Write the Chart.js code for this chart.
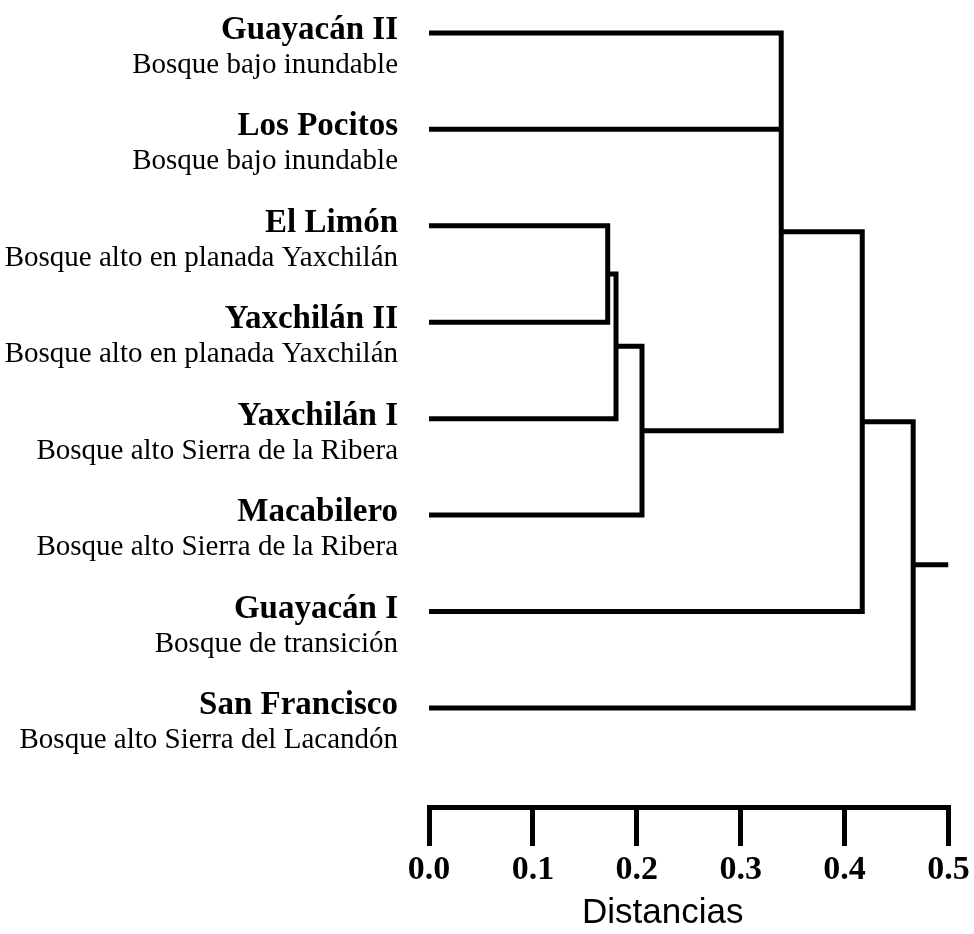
<!DOCTYPE html>
<html>
<head>
<meta charset="utf-8">
<title>Dendrograma de sitios</title>
<script src="https://cdn.jsdelivr.net/npm/chart.js@4.4.1/dist/chart.umd.min.js"></script>
<style>
  html, body { margin: 0; padding: 0; background: #fff; }
  #wrap { width: 974px; height: 934px; position: relative; }
</style>
</head>
<body>
<div id="wrap"><canvas id="dendro"></canvas></div>
<script>
// Leaves, top to bottom
const sites = ['Guayacán II', 'Los Pocitos', 'El Limón', 'Yaxchilán II',
               'Yaxchilán I', 'Macabilero', 'Guayacán I', 'San Francisco'];
const habitats = ['Bosque bajo inundable', 'Bosque bajo inundable',
                  'Bosque alto en planada Yaxchilán', 'Bosque alto en planada Yaxchilán',
                  'Bosque alto Sierra de la Ribera', 'Bosque alto Sierra de la Ribera',
                  'Bosque de transición', 'Bosque alto Sierra del Lacandón'];

// Merge steps; new nodes are numbered after the leaves (8, 9, ...)
const mergeMembers = [[2, 3], [8, 4], [9, 5], [0, 1, 10], [11, 6], [12, 7]];
const mergeDistances = [0.172, 0.180, 0.205, 0.339, 0.417, 0.466];
const rootEnd = 0.5;

const xTicks = [0.0, 0.1, 0.2, 0.3, 0.4, 0.5];
const xTitle = 'Distancias';

// Position (row) and height of every node
const nodeRow = sites.map((_, i) => i);
const nodeHeight = sites.map(() => 0);
const segments = [];
mergeMembers.forEach((members, k) => {
  const d = mergeDistances[k];
  const sorted = members.slice().sort((a, b) => nodeRow[a] - nodeRow[b]);
  const first = sorted[0], last = sorted[sorted.length - 1];
  segments.push([
    { x: nodeHeight[first], y: nodeRow[first] },
    { x: d, y: nodeRow[first] },
    { x: d, y: nodeRow[last] },
    { x: nodeHeight[last], y: nodeRow[last] }
  ]);
  sorted.slice(1, -1).forEach(m => {
    segments.push([{ x: nodeHeight[m], y: nodeRow[m] }, { x: d, y: nodeRow[m] }]);
  });
  nodeRow.push((nodeRow[first] + nodeRow[last]) / 2);
  nodeHeight.push(d);
});
const root = nodeRow.length - 1;
segments.push([{ x: nodeHeight[root], y: nodeRow[root] }, { x: rootEnd, y: nodeRow[root] }]);

const datasets = segments.map(pts => ({
  data: pts,
  borderColor: '#000',
  borderWidth: 5,
  borderJoinStyle: 'miter',
  borderCapStyle: 'butt',
  pointRadius: 0,
  fill: false,
  tension: 0
}));

// Site names and habitat types beside each leaf, plus the axis caption
const textLayer = {
  id: 'textLayer',
  afterDraw(chart) {
    const { ctx, scales, chartArea } = chart;
    const xRight = chartArea.left - 31;
    ctx.save();
    ctx.fillStyle = '#000';
    ctx.textAlign = 'right';
    ctx.textBaseline = 'alphabetic';
    sites.forEach((name, i) => {
      const y = scales.y.getPixelForValue(i);
      ctx.font = 'bold 33px "Liberation Serif"';
      ctx.fillText(name, xRight, y + 6);
      ctx.font = '29px "Liberation Serif"';
      ctx.fillText(habitats[i], xRight, y + 40);
    });
    ctx.textAlign = 'center';
    ctx.textBaseline = 'middle';
    ctx.font = '35px "Liberation Sans"';
    ctx.fillText(xTitle, (chartArea.left + chartArea.right) / 2 - 26, scales.x.bottom - 21);
    ctx.restore();
  }
};

new Chart(document.getElementById('dendro'), {
  type: 'line',
  data: { datasets },
  plugins: [textLayer],
  options: {
    responsive: true,
    maintainAspectRatio: false,
    animation: false,
    events: [],
    layout: { padding: { left: 429, right: 25.5, top: 4, bottom: 0 } },
    plugins: { legend: { display: false }, tooltip: { enabled: false } },
    scales: {
      x: {
        type: 'linear',
        min: 0,
        max: 0.5,
        afterBuildTicks(scale) { scale.ticks = xTicks.map(v => ({ value: v })); },
        afterFit(scale) { scale.height = 127; },
        ticks: {
          color: '#000',
          padding: 4,
          maxRotation: 0,
          autoSkip: false,
          font: { family: '"Liberation Serif"', size: 34, weight: 'bold' },
          callback: v => Number(v).toFixed(1)
        },
        grid: {
          display: true,
          drawOnChartArea: false,
          drawTicks: true,
          tickLength: 39,
          color: '#000',
          lineWidth: 5,
          tickWidth: 5,
          tickColor: '#000'
        },
        border: { display: true, color: '#000', width: 5 },
        title: { display: false }
      },
      y: {
        type: 'linear',
        display: false,
        reverse: true,
        min: -0.3,
        max: 8.027
      }
    }
  }
});
</script>
</body>
</html>
